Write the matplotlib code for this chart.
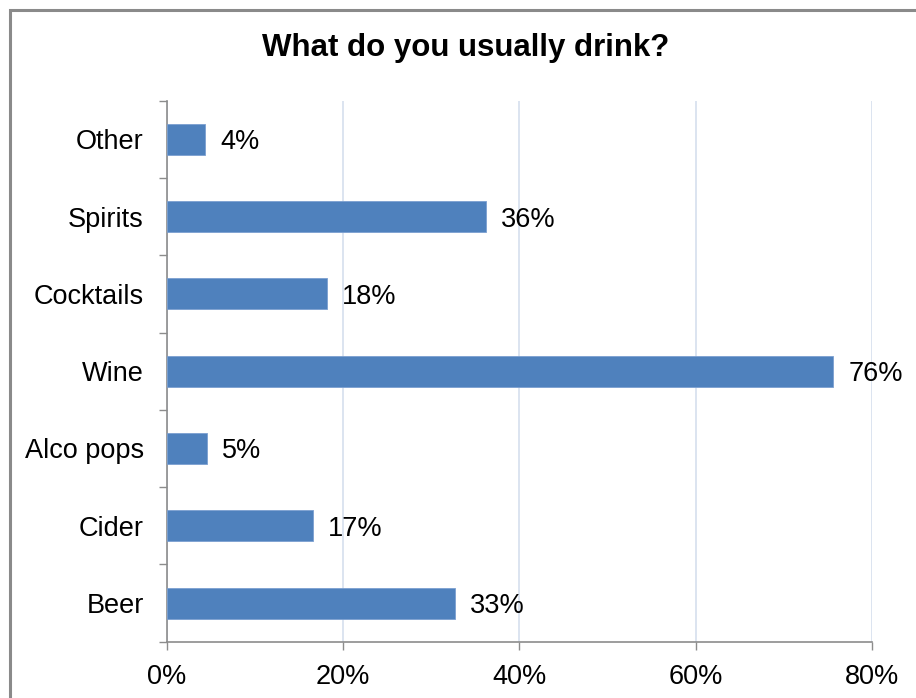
import matplotlib.pyplot as plt
import matplotlib.patches as patches
import numpy as np

plt.rcParams['font.family'] = ['Liberation Sans', 'DejaVu Sans']

categories = ["Beer", "Cider", "Alco pops", "Wine", "Cocktails", "Spirits", "Other"]
values = [32.7, 16.6, 4.6, 75.6, 18.2, 36.2, 4.4]
x_ticks = [0, 20, 40, 60, 80]
title = "What do you usually drink?"


def main():
    fig = plt.figure(figsize=(9.16, 6.98), dpi=100)
    ax = fig.add_axes([166.6 / 916, 1 - 641.7 / 698, (872 - 166.6) / 916, 541 / 698])

    y = np.arange(len(categories))
    ax.barh(y, values, height=0.4, color="#4f81bd", edgecolor="#7b9fd0", linewidth=0.6, zorder=3)

    for yi, v in zip(y, values):
        ax.text(v + 1.7, yi, f"{v:.0f}%", va="center_baseline", ha="left", fontsize=19.5, color="black")

    ax.set_xlim(0, 80)
    ax.set_ylim(-0.5, len(categories) - 0.5)

    ax.set_xticks(x_ticks)
    ax.set_xticklabels([f"{t}%" for t in x_ticks], fontsize=19.5)
    ax.set_yticks(y)
    ax.set_yticklabels(categories, fontsize=19.5, va="center_baseline")
    ax.set_yticks(np.arange(-0.5, len(categories)), minor=True)

    ax.tick_params(axis="y", which="major", length=0, pad=16.5)
    ax.tick_params(axis="y", which="minor", length=6, width=1, color="#8c8c8c", direction="out")
    ax.tick_params(axis="x", which="major", length=6, width=1, color="#8c8c8c", direction="out", pad=10)

    ax.xaxis.grid(True, color="#d6dfee", linewidth=1.2, zorder=0)
    for s in ["top", "right"]:
        ax.spines[s].set_visible(False)
    for s in ["left", "bottom"]:
        ax.spines[s].set_color("#8c8c8c")
        ax.spines[s].set_linewidth(1.2)

    fig.text(466 / 916, 1 - 48 / 698, title, ha="center", va="center", fontsize=22.5, fontweight="bold")

    # chart area border, cut off at right and bottom
    border = patches.Rectangle((9.5 / 916, -0.1), 1.2, (698 - 10.5) / 698 + 0.1,
                               transform=fig.transFigure, fill=False, edgecolor="#8a8a8a",
                               linewidth=2.2, clip_on=False)
    fig.patches.append(border)

    fig.savefig("out.png", dpi=100)


if __name__ == "__main__":
    main()
